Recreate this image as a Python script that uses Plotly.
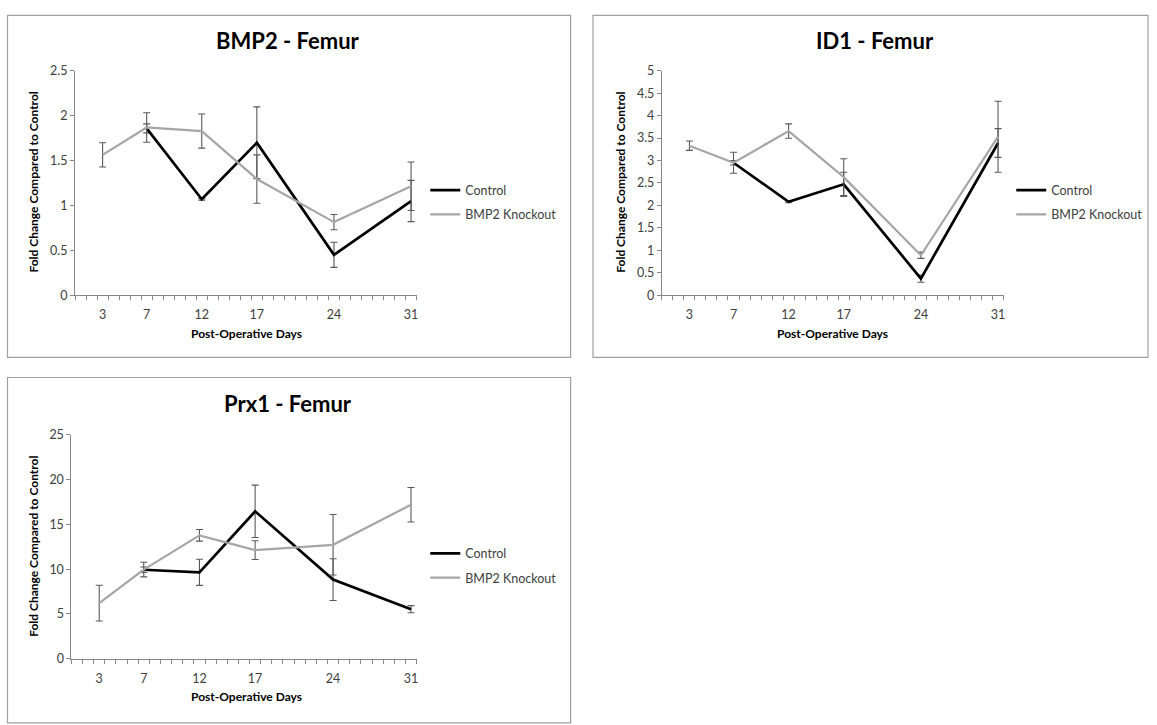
import plotly.graph_objects as go

W, H = 1157, 725

days = [3, 7, 12, 17, 24, 31]
series_names = ["Control", "BMP2 Knockout"]

bmp2_control = [None, 1.86, 1.07, 1.70, 0.45, 1.05]
bmp2_control_err = [0, 0.05, 0.01, 0.40, 0.14, 0.23]
bmp2_ko = [1.565, 1.87, 1.83, 1.295, 0.815, 1.215]
bmp2_ko_err = [0.135, 0.165, 0.19, 0.27, 0.085, 0.27]

id1_control = [None, 2.95, 2.08, 2.47, 0.37, 3.39]
id1_control_err = [0, 0.05, 0.02, 0.27, 0.08, 0.32]
id1_ko = [3.33, 2.95, 3.655, 2.63, 0.89, 3.53]
id1_ko_err = [0.105, 0.235, 0.16, 0.41, 0.07, 0.79]

prx1_control = [None, 9.93, 9.64, 16.46, 8.83, 5.52]
prx1_control_err = [0, 0.3, 1.46, 2.93, 2.33, 0.4]
prx1_ko = [6.2, 9.95, 13.78, 12.12, 12.72, 17.2]
prx1_ko_err = [2.0, 0.82, 0.65, 1.05, 3.38, 1.93]

titles = ["BMP2 - Femur", "ID1 - Femur", "Prx1 - Femur"]
x_title = "Post-Operative Days"
y_title = "Fold Change Compared to Control"


def px(x):
    return x / W


def py(y):
    return 1 - y / H


FONT = "Lato, 'Open Sans', sans-serif"
AXC = "#868686"
ERRC = "#595959"
CTRL_C = "#000000"
KO_C = "#a6a6a6"

panels = [
    dict(ctrl=bmp2_control, ctrl_e=bmp2_control_err, ko=bmp2_ko, ko_e=bmp2_ko_err,
         xdom=(75.2, 417.3), ydom=(64.3, 293.3), yr=(0, 2.5), dt=0.5,
         box=(7.5, 7.5, 571.6, 356.7), title=(288.6, 33), legend=(426, 171),
         xt=(246.5, 332), yt=(33.3, 178)),
    dict(ctrl=id1_control, ctrl_e=id1_control_err, ko=id1_ko, ko_e=id1_ko_err,
         xdom=(663.0, 1005.3), ydom=(64.0, 293.3), yr=(0, 5), dt=0.5,
         box=(594, 7.5, 1150, 356.7), title=(877, 33), legend=(1013, 171),
         xt=(834, 332), yt=(621.5, 178)),
    dict(ctrl=prx1_control, ctrl_e=prx1_control_err, ko=prx1_ko, ko_e=prx1_ko_err,
         xdom=(71.5, 417.3), ydom=(436, 664.3), yr=(0, 25), dt=5,
         box=(7.5, 377.3, 571.6, 730), title=(288.6, 404), legend=(426, 542),
         xt=(247, 703), yt=(33.3, 550)),
]

fig = go.Figure()
layout = dict(
    width=W, height=H, margin=dict(l=0, r=0, t=0, b=0, pad=0),
    paper_bgcolor="white", plot_bgcolor="white",
    font=dict(family=FONT, color="#404040"),
    showlegend=True,
)
shapes = []
annotations = []

for i, p in enumerate(panels):
    n = "" if i == 0 else str(i + 1)
    xa, ya = "x" + n, "y" + n
    lg = "legend" + n
    fig.add_trace(go.Scatter(
        x=days, y=p["ctrl"], name=series_names[0], mode="lines",
        line=dict(color=CTRL_C, width=2.7), xaxis=xa, yaxis=ya, legend=lg,
        legendgroup="c" + n, connectgaps=False,
        error_y=dict(type="data", array=p["ctrl_e"], color=ERRC, thickness=1.1, width=3.5),
    ))
    fig.add_trace(go.Scatter(
        x=days, y=p["ko"], name=series_names[1], mode="lines",
        line=dict(color=KO_C, width=2.2), xaxis=xa, yaxis=ya, legend=lg,
        legendgroup="k" + n,
        error_y=dict(type="data", array=p["ko_e"], color=ERRC, thickness=1.1, width=3.5),
    ))
    layout["xaxis" + n] = dict(
        domain=[px(p["xdom"][0]), px(p["xdom"][1])], anchor=ya,
        range=[0.5, 31.5], tickmode="array", tickvals=days,
        ticktext=[str(d) for d in days], ticks="", ticklabelstandoff=8,
        showline=True, linecolor=AXC, linewidth=1, showgrid=False, zeroline=False,
        tickfont=dict(size=12.5, color="#404040", family=FONT),
        minor=dict(ticks="outside", tickmode="array",
                   tickvals=[d + 0.5 for d in range(0, 32)],
                   ticklen=4, tickcolor=AXC, tickwidth=1, showgrid=False),
        fixedrange=True,
    )
    layout["yaxis" + n] = dict(
        domain=[py(p["ydom"][1]), py(p["ydom"][0])], anchor=xa,
        range=list(p["yr"]), dtick=p["dt"], tick0=0, ticks="outside", ticklen=4,
        tickcolor=AXC, showline=True, linecolor=AXC, linewidth=1,
        showgrid=False, zeroline=False,
        tickfont=dict(size=12.5, color="#404040", family=FONT),
        fixedrange=True,
    )
    layout[lg] = dict(
        x=px(p["legend"][0]), y=py(p["legend"][1]), xanchor="left", yanchor="top",
        bgcolor="rgba(0,0,0,0)", borderwidth=0, tracegroupgap=5,
        font=dict(size=12.5, color="#404040", family=FONT),
    )
    bx0, by0, bx1, by1 = p["box"]
    shapes.append(dict(type="rect", xref="paper", yref="paper",
                       x0=px(bx0), x1=px(bx1), y0=py(by1), y1=py(by0),
                       line=dict(color="#a0a0a0", width=1.2), layer="below"))
    annotations.append(dict(text="<b>%s</b>" % titles[i], x=px(p["title"][0]), y=py(p["title"][1]),
                            xref="paper", yref="paper", showarrow=False,
                            xanchor="center", yanchor="middle",
                            font=dict(size=22, color="#000000", family=FONT)))
    annotations.append(dict(text="<b>%s</b>" % x_title, x=px(p["xt"][0]), y=py(p["xt"][1]),
                            xref="paper", yref="paper", showarrow=False,
                            xanchor="center", yanchor="middle",
                            font=dict(size=12, color="#000000", family=FONT)))
    annotations.append(dict(text="<b>%s</b>" % y_title, x=px(p["yt"][0]), y=py(p["yt"][1]),
                            xref="paper", yref="paper", showarrow=False, textangle=-90,
                            xanchor="center", yanchor="middle",
                            font=dict(size=12, color="#000000", family=FONT)))

layout["shapes"] = shapes
layout["annotations"] = annotations
fig.update_layout(**layout)
fig.write_html("out.html", config={"displayModeBar": False},
               post_script="document.body.style.margin='0';document.body.style.overflow='hidden';")
